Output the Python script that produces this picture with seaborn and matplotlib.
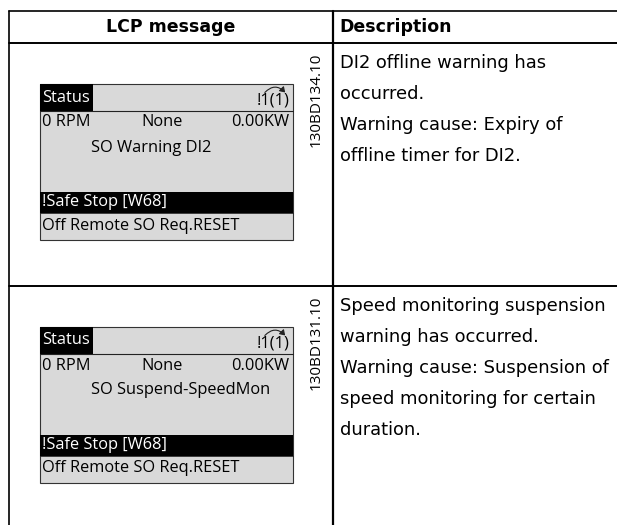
import matplotlib
matplotlib.use("Agg")
import matplotlib.pyplot as plt
import matplotlib.patches as mpatches
import seaborn as sns

# table content
headers = ["LCP message", "Description"]
fig_codes = ["130BD134.10", "130BD131.10"]
lcp_line3 = ["SO Warning DI2", "SO Suspend-SpeedMon"]
lcp_status = ["Status", "!1(1)"]
lcp_line2 = ["0 RPM", "None", "0.00KW"]
lcp_line4 = "!Safe Stop [W68]"
lcp_line5 = "Off Remote SO Req.RESET"
descriptions = [
    ["DI2 offline warning has", "occurred.", "Warning cause: Expiry of",
     "offline timer for DI2."],
    ["Speed monitoring suspension", "warning has occurred.",
     "Warning cause: Suspension of", "speed monitoring for certain",
     "duration."],
]

sns.set_style("white")
plt.rcParams["font.family"] = ["Open Sans", "DejaVu Sans"]
plt.rcParams["text.color"] = "black"
body_font = ["DejaVu Sans"]

W, H = 617, 525
fig = plt.figure(figsize=(W / 100, H / 100), dpi=100)
ax = fig.add_axes([0, 0, 1, 1])
ax.set_xlim(0, W)
ax.set_ylim(H, 0)
ax.axis("off")

left, mid = 9, 333
top, head_bot = 10.5, 43
row_tops = [43, 286]

# grid lines
ax.plot([left, W], [top, top], color="black", lw=1.2)
ax.plot([left, W], [head_bot, head_bot], color="black", lw=1.4)
ax.plot([left, W], [row_tops[1], row_tops[1]], color="black", lw=1.4)
ax.plot([left, left], [top, H], color="black", lw=1.2)
ax.plot([mid, mid], [top, H], color="black", lw=1.6)

ax.text((left + mid) / 2, 27, headers[0], ha="center", va="center",
        fontsize=12.5, fontweight="bold", family=body_font)
ax.text(339, 27, headers[1], ha="left", va="center",
        fontsize=12.5, fontweight="bold", family=body_font)

for i, rt in enumerate(row_tops):
    # LCP display
    bx, by, bw, bh = 40, rt + 40.5, 253, 156
    ax.add_patch(mpatches.Rectangle((bx, by), bw, bh, facecolor="#d9d9d9",
                                    edgecolor="#333333", lw=0.8))
    ax.add_patch(mpatches.Rectangle((bx, by), 53, 27, facecolor="black", lw=0))
    ax.plot([bx, bx + bw], [by + 27, by + 27], color="#222222", lw=0.8)
    ax.add_patch(mpatches.Rectangle((bx, by + 108), bw, 21, facecolor="black", lw=0))
    ax.plot([bx, bx + bw], [by + 129, by + 129], color="#222222", lw=0.6)

    ax.text(bx + 2, by + 14, lcp_status[0], color="white", fontsize=11.8,
            ha="left", va="center")
    ax.text(bx + bw - 3, by + 17, lcp_status[1], fontsize=11.8,
            ha="right", va="center")
    ax.add_patch(mpatches.FancyArrowPatch((bx + bw - 30, by + 11), (bx + bw - 6, by + 11),
                                          connectionstyle="arc3,rad=-0.6",
                                          arrowstyle="-|>,head_length=3,head_width=2",
                                          color="#222222", lw=0.8))
    ax.text(bx + 2, by + 39, lcp_line2[0], fontsize=11.8, ha="left", va="center")
    ax.text(bx + 122, by + 39, lcp_line2[1], fontsize=11.8, ha="center", va="center")
    ax.text(bx + bw - 4, by + 39, lcp_line2[2], fontsize=11.8, ha="right", va="center")
    ax.text(bx + 51, by + 64, lcp_line3[i], fontsize=11.8, ha="left", va="center")
    ax.text(bx + 2, by + 118.5, lcp_line4, color="white", fontsize=11.8,
            ha="left", va="center")
    ax.text(bx + 2, by + 142, lcp_line5, fontsize=11.8, ha="left", va="center")

    # figure code
    ax.text(316, rt + 10, fig_codes[i], rotation=90, fontsize=11,
            ha="center", va="top")

    # description
    for j, line in enumerate(descriptions[i]):
        ax.text(340, rt + 20 + 31 * j, line, fontsize=12.9, ha="left",
                va="center", family=body_font)

fig.savefig("out.png", dpi=100)
